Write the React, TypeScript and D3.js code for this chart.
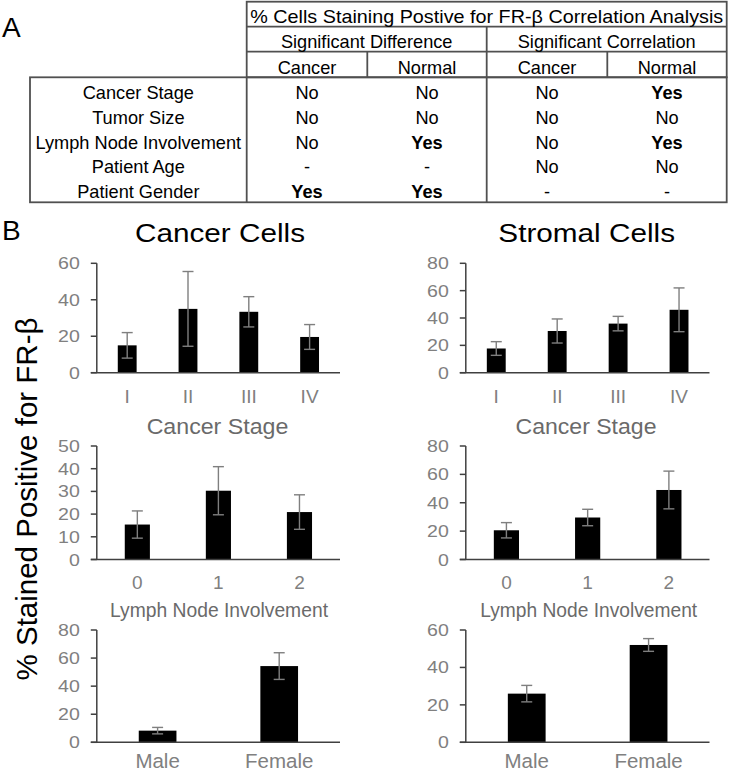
import React from "react";
import * as d3 from "d3";

// ---------- Table data ----------
const tableRows = ["Cancer Stage", "Tumor Size", "Lymph Node Involvement", "Patient Age", "Patient Gender"];
const diffCancer = ["No", "No", "No", "-", "Yes"];
const diffNormal = ["No", "No", "Yes", "-", "Yes"];
const corrCancer = ["No", "No", "No", "No", "-"];
const corrNormal = ["Yes", "No", "Yes", "No", "-"];
const tableTitle = "% Cells Staining Postive for FR-β Correlation Analysis";
const groupHeaders = ["Significant Difference", "Significant Correlation"];
const subHeaders = ["Cancer", "Normal", "Cancer", "Normal"];

// ---------- Chart data ----------
const stageCats = ["I", "II", "III", "IV"];
const lymphCats = ["0", "1", "2"];
const genderCats = ["Male", "Female"];

const cancerStage = [15, 35, 33.4, 19.6];
const cancerStageErr = [7, 20.5, 8.3, 6.8];
const stromalStage = [17.7, 30.5, 35.9, 46];
const stromalStageErr = [5, 8.8, 5.3, 16];

const cancerLymph = [15.4, 30.3, 20.9];
const cancerLymphErr = [6, 10.6, 7.6];
const stromalLymph = [20.6, 29.6, 49];
const stromalLymphErr = [5.4, 5.8, 13.3];

const cancerGender = [8.3, 54.3];
const cancerGenderErr = [2.3, 9.5];
const stromalGender = [26, 52];
const stromalGenderErr = [4.4, 3.4];

const ticksCancerStage = [0, 20, 40, 60];
const ticksStromalStage = [0, 20, 40, 60, 80];
const ticksCancerLymph = [0, 10, 20, 30, 40, 50];
const ticksStromalLymph = [0, 20, 40, 60, 80];
const ticksCancerGender = [0, 20, 40, 60, 80];
const ticksStromalGender = [0, 20, 40, 60];

const FONT = "'Liberation Sans', Arial, Helvetica, sans-serif";
const TICK_COLOR = "#808080";
const AXIS_TITLE_COLOR = "#6a6a6a";

type PanelProps = {
  x0: number;
  x1: number;
  yBase: number;
  yTop: number;
  cats: string[];
  values: number[];
  errs: number[];
  ticks: number[];
  catBaseline: number;
  catSize: number;
};

function Panel({ x0, x1, yBase, yTop, cats, values, errs, ticks, catBaseline, catSize }: PanelProps) {
  const y = d3.scaleLinear().domain([0, ticks[ticks.length - 1]]).range([yBase, yTop]);
  const x = d3.scaleBand<string>().domain(cats).range([x0, x1]).paddingInner(0.69).paddingOuter(0.345);
  const cap = 5.5;
  return (
    <g>
      {cats.map((c, i) => {
        const bx = x(c)!;
        const cx = bx + x.bandwidth() / 2;
        return (
          <g key={c}>
            <rect x={bx} y={y(values[i])} width={x.bandwidth()} height={yBase - y(values[i])} fill="#000" />
            <g stroke="#7f7f7f" strokeWidth={1.4}>
              <line x1={cx} x2={cx} y1={y(values[i] + errs[i])} y2={y(values[i] - errs[i])} />
              <line x1={cx - cap} x2={cx + cap} y1={y(values[i] + errs[i])} y2={y(values[i] + errs[i])} />
              <line x1={cx - cap} x2={cx + cap} y1={y(values[i] - errs[i])} y2={y(values[i] - errs[i])} />
            </g>
            <text x={cx} y={catBaseline} textAnchor="middle" fontSize={catSize} fill={TICK_COLOR} fontFamily={FONT}>
              {c}
            </text>
          </g>
        );
      })}
      {/* axes */}
      <line x1={x0} x2={x0} y1={yTop} y2={yBase} stroke="#404040" strokeWidth={1.5} />
      <line x1={x0 - 6} x2={x1} y1={yBase} y2={yBase} stroke="#404040" strokeWidth={1.5} />
      {ticks.map((t) => (
        <g key={t}>
          <line x1={x0 - 6} x2={x0} y1={y(t)} y2={y(t)} stroke="#404040" strokeWidth={1.5} />
          <text
            transform={`translate(${x0 - 17},${y(t) + 6}) scale(1.15,1)`}
            textAnchor="end"
            fontSize={17}
            fill={TICK_COLOR}
            fontFamily={FONT}
          >
            {t}
          </text>
        </g>
      ))}
    </g>
  );
}

function Table() {
  const left = 30;
  const c0 = 246.7;
  const c1 = 367.3;
  const c2 = 486.7;
  const c3 = 607.3;
  const right = 726.7;
  const r0 = 1.7;
  const r1 = 26.7;
  const r2 = 51.7;
  const r3 = 77.3;
  const bottom = 202.3;
  const stroke = "#505050";
  const sw = 1.8;
  const colCenters = [(c0 + c1) / 2, (c1 + c2) / 2, (c2 + c3) / 2, (c3 + right) / 2];
  const cols = [diffCancer, diffNormal, corrCancer, corrNormal];
  const fs = 18.2;
  return (
    <g fontFamily={FONT} fontSize={fs} fill="#000">
      <g stroke={stroke} strokeWidth={sw} fill="none">
        <rect x={c0} y={r0} width={right - c0} height={r3 - r0} />
        <line x1={c0} x2={right} y1={r1} y2={r1} />
        <line x1={c0} x2={right} y1={r2} y2={r2} />
        <line x1={c2} x2={c2} y1={r1} y2={r3} />
        <line x1={c1} x2={c1} y1={r2} y2={r3} />
        <line x1={c3} x2={c3} y1={r2} y2={r3} />
        <rect x={left} y={r3} width={right - left} height={bottom - r3} />
        <line x1={c0} x2={c0} y1={r3} y2={bottom} />
        <line x1={c2} x2={c2} y1={r3} y2={bottom} />
      </g>
      <text x={(c0 + right) / 2} y={22.7} textAnchor="middle" textLength={473} lengthAdjust="spacingAndGlyphs">
        {tableTitle}
      </text>
      <text x={(c0 + c2) / 2} y={48.3} textAnchor="middle">
        {groupHeaders[0]}
      </text>
      <text x={(c2 + right) / 2} y={48.3} textAnchor="middle">
        {groupHeaders[1]}
      </text>
      {subHeaders.map((s, i) => (
        <text key={i} x={colCenters[i]} y={74} textAnchor="middle">
          {s}
        </text>
      ))}
      {tableRows.map((r, i) => {
        const by = 98.7 + i * 24.9;
        return (
          <g key={r}>
            <text x={(left + c0) / 2} y={by} textAnchor="middle">
              {r}
            </text>
            {cols.map((col, j) => (
              <text
                key={j}
                x={colCenters[j]}
                y={by}
                textAnchor="middle"
                fontWeight={col[i] === "Yes" ? "bold" : "normal"}
              >
                {col[i]}
              </text>
            ))}
          </g>
        );
      })}
    </g>
  );
}

export default function App() {
  const L = { x0: 96.8, x1: 340 };
  const R = { x0: 465.8, x1: 709.5 };
  const row1 = { yBase: 372.7, yTop: 263.3, catBaseline: 402.7, catSize: 19 };
  const row2 = { yBase: 559.5, yTop: 446, catBaseline: 589.3, catSize: 19 };
  const row3 = { yBase: 742.3, yTop: 630, catBaseline: 768.3, catSize: 20.5 };
  const lymphTitle = "Lymph Node Involvement";
  return (
    <svg
      width={729}
      height={773}
      viewBox="0 0 729 773"
      style={{ position: "absolute", left: 0, top: 0, display: "block", background: "#fff" }}
    >
      <rect width={729} height={773} fill="#fff" />
      <text x={2} y={36.7} fontSize={28} fontFamily={FONT} fill="#000">
        A
      </text>
      <Table />
      <text x={2} y={239.5} fontSize={28} fontFamily={FONT} fill="#000">
        B
      </text>
      <text x={220} y={241.7} textAnchor="middle" fontSize={25} fontFamily={FONT} textLength={170} lengthAdjust="spacingAndGlyphs">
        Cancer Cells
      </text>
      <text x={586.7} y={241.7} textAnchor="middle" fontSize={25} fontFamily={FONT} textLength={176.7} lengthAdjust="spacingAndGlyphs">
        Stromal Cells
      </text>
      <text
        transform="translate(37,499) rotate(-90)"
        textAnchor="middle"
        fontSize={29.5}
        fontFamily={FONT}
        fill="#000"
      >
        % Stained Positive for FR-β
      </text>

      <Panel {...L} {...row1} cats={stageCats} values={cancerStage} errs={cancerStageErr} ticks={ticksCancerStage} />
      <Panel {...R} {...row1} cats={stageCats} values={stromalStage} errs={stromalStageErr} ticks={ticksStromalStage} />
      <Panel {...L} {...row2} cats={lymphCats} values={cancerLymph} errs={cancerLymphErr} ticks={ticksCancerLymph} />
      <Panel {...R} {...row2} cats={lymphCats} values={stromalLymph} errs={stromalLymphErr} ticks={ticksStromalLymph} />
      <Panel {...L} {...row3} cats={genderCats} values={cancerGender} errs={cancerGenderErr} ticks={ticksCancerGender} />
      <Panel {...R} {...row3} cats={genderCats} values={stromalGender} errs={stromalGenderErr} ticks={ticksStromalGender} />

      <text x={217.5} y={434.3} textAnchor="middle" fontSize={22} fontFamily={FONT} fill={AXIS_TITLE_COLOR} textLength={141.7} lengthAdjust="spacingAndGlyphs">
        Cancer Stage
      </text>
      <text x={586} y={434.3} textAnchor="middle" fontSize={22} fontFamily={FONT} fill={AXIS_TITLE_COLOR} textLength={141} lengthAdjust="spacingAndGlyphs">
        Cancer Stage
      </text>
      <text x={219} y={616.7} textAnchor="middle" fontSize={20.5} fontFamily={FONT} fill={AXIS_TITLE_COLOR} textLength={218} lengthAdjust="spacingAndGlyphs">
        {lymphTitle}
      </text>
      <text x={588.7} y={616.7} textAnchor="middle" fontSize={20.5} fontFamily={FONT} fill={AXIS_TITLE_COLOR} textLength={217} lengthAdjust="spacingAndGlyphs">
        {lymphTitle}
      </text>
    </svg>
  );
}
